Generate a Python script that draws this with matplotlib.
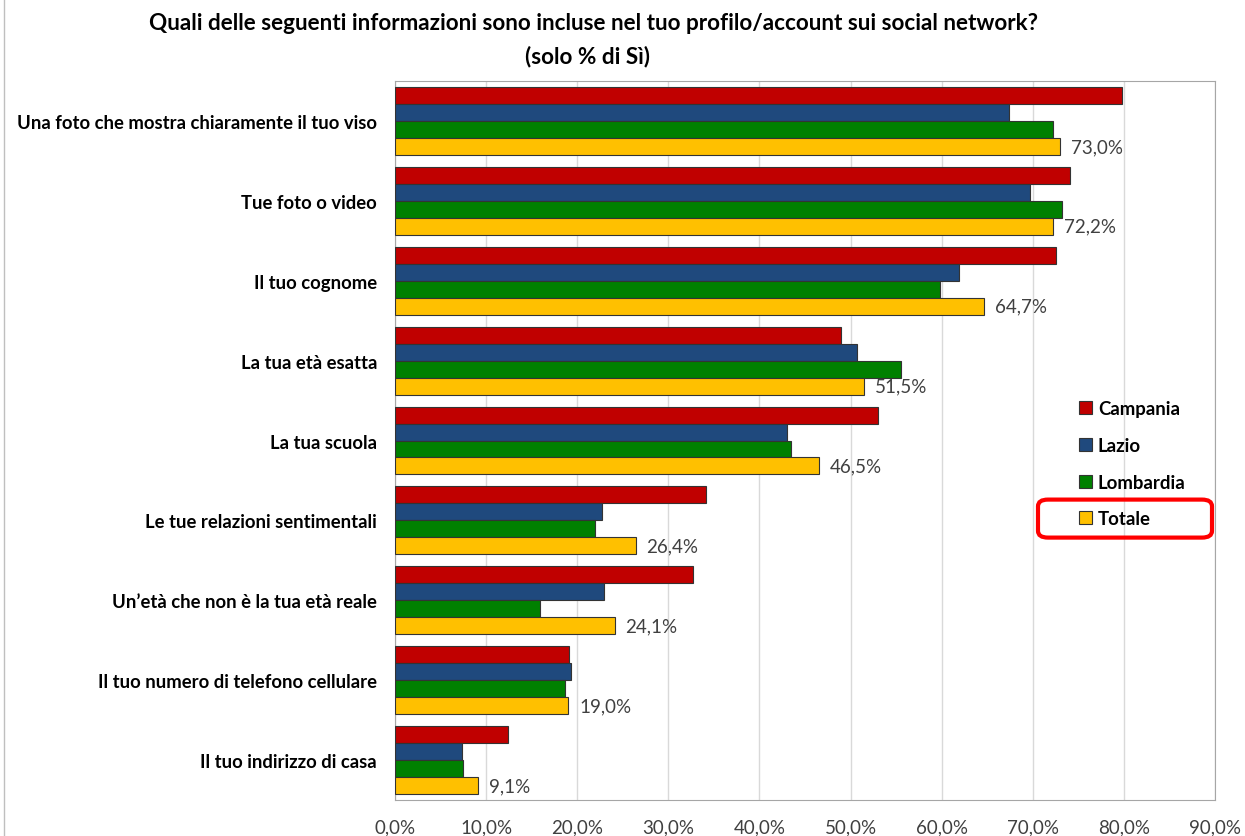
import matplotlib
matplotlib.use('Agg')
import matplotlib.pyplot as plt
import numpy as np
from matplotlib.patches import FancyBboxPatch
from matplotlib.lines import Line2D

plt.rcParams['font.family'] = ['Lato', 'DejaVu Sans']

categorie = ['Una foto che mostra chiaramente il tuo viso',
             'Tue foto o video',
             'Il tuo cognome',
             'La tua età esatta',
             'La tua scuola',
             'Le tue relazioni sentimentali',
             'Un\u2019età che non è la tua età reale',
             'Il tuo numero di telefono cellulare',
             'Il tuo indirizzo di casa']
campania = [79.8, 74.1, 72.6, 49.0, 53.0, 34.1, 32.7, 19.1, 12.4]
lazio = [67.4, 69.7, 61.9, 50.7, 43.0, 22.7, 22.9, 19.3, 7.4]
lombardia = [72.2, 73.2, 59.8, 55.5, 43.5, 22.0, 15.9, 18.7, 7.5]
totale = [73.0, 72.2, 64.7, 51.5, 46.5, 26.4, 24.1, 19.0, 9.1]
serie = ['Campania', 'Lazio', 'Lombardia', 'Totale']
colori = ['#C00000', '#1F497D', '#008000', '#FFC000']

fig = plt.figure(figsize=(12.45, 8.37), dpi=100)
ax = fig.add_axes([0.3173, 0.043, 0.6586, 0.859])

y = np.arange(len(categorie))
h = 0.2125
barre = []
for i, (vals, col, nome) in enumerate(zip([campania, lazio, lombardia, totale], colori, serie)):
    b = ax.barh(y - 1.5 * h + i * h, vals, height=h, color=col,
                edgecolor='#333333', linewidth=0.8, label=nome, zorder=3)
    barre.append(b)

# etichette del totale
for yi, v in zip(y, totale):
    ax.text(v + 1.2, yi + 1.5 * h, ('%.1f%%' % v).replace('.', ','),
            va='center', ha='left', fontsize=13.5, color='#404040')

ax.set_xlim(0, 90)
ax.set_ylim(len(categorie) - 0.5, -0.5)
ax.set_xticks(np.arange(0, 91, 10))
ax.set_xticklabels([('%.1f%%' % t).replace('.', ',') for t in np.arange(0, 91, 10)],
                   fontsize=13.5, color='#404040')
ax.tick_params(axis='x', length=0, pad=13)
ax.set_yticks(y)
ax.set_yticklabels(categorie, fontsize=13.3, fontweight='bold')
ax.tick_params(axis='y', length=0, pad=13)
ax.grid(axis='x', color='#d9d9d9', lw=1, zorder=0)
for s in ax.spines.values():
    s.set_color('#a6a6a6')

fig.text(0.477, 0.972, 'Quali delle seguenti informazioni sono incluse nel tuo profilo/account sui social network?',
         ha='center', va='center', fontsize=16.2, fontweight='bold')
fig.text(0.472, 0.932, '(solo % di Sì)', ha='center', va='center', fontsize=16.2, fontweight='bold')

leg = ax.legend(handles=barre, loc='upper left', bbox_to_anchor=(0.814, 0.579),
                frameon=False, handlelength=0.7, handleheight=0.7, handletextpad=0.3,
                labelspacing=1.05, prop={'weight': 'bold', 'size': 13.4})

# riquadro rosso attorno a "Totale"
fig.canvas.draw()
r = fig.canvas.get_renderer()
bb = leg.get_texts()[3].get_window_extent(r)
inv = fig.transFigure.inverted()
yc = (bb.y0 + bb.y1) / 2
x0, y0 = inv.transform((1038, yc - 19))
x1, y1 = inv.transform((1212, yc + 19))
fig.patches.append(FancyBboxPatch((x0, y0), x1 - x0, y1 - y0,
                                  boxstyle='round,pad=0,rounding_size=0.008',
                                  transform=fig.transFigure, fill=False,
                                  edgecolor='#FF0000', lw=3))

fig.add_artist(Line2D([0.003, 0.003], [0, 1], color='#bfbfbf', lw=1))

fig.savefig('out.png', dpi=100)
